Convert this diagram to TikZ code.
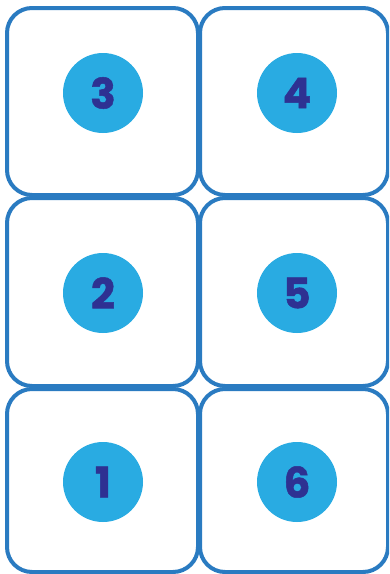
\documentclass[tikz,border=0pt]{standalone}
\usepackage{fontspec}
\setmainfont{Poppins}
\newfontfamily\numfont{Poppins Bold}[FakeBold=1.2]
\definecolor{boxblue}{HTML}{2A7BC1}
\definecolor{discblue}{HTML}{29ABE2}
\definecolor{numnavy}{HTML}{2E3192}
\begin{document}
\begin{tikzpicture}[x=1pt,y=-1pt,
  tile/.style={draw=boxblue,line width=4pt,rounded corners=25pt,fill=white},
  disc/.style={circle,fill=discblue,minimum size=80pt,inner sep=0pt,text=numnavy,
    font=\numfont\fontsize{42}{42}\selectfont}]
\useasboundingbox (0,0) rectangle (389,574);
\begin{scope}
\clip (0,0) rectangle (389,574);
\draw[tile] (7,8) rectangle (198,195);
\draw[tile] (200,8) rectangle (388,195);
\draw[tile] (7,198) rectangle (198,386);
\draw[tile] (200,198) rectangle (388,386);
\draw[tile] (7,389) rectangle (198,572);
\draw[tile] (200,389) rectangle (388,572);
\end{scope}
\node[disc] (n3) at (103,93) {3};
\node[disc] (n4) at (297,93) {4};
\node[disc] (n2) at (103,293) {2};
\node[disc] (n5) at (297,293) {5};
\node[disc] (n1) at (103,482) {1};
\node[disc] (n6) at (297,482) {6};
\end{tikzpicture}
\end{document}
